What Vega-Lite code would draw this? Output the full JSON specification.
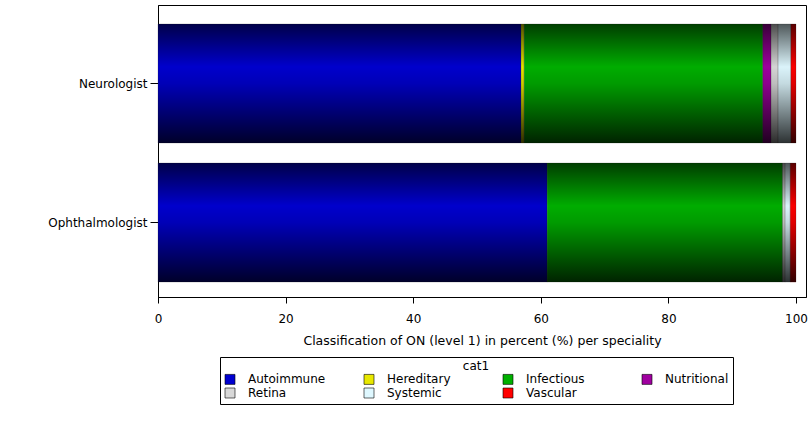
{
  "$schema": "https://vega.github.io/schema/vega-lite/v6.json",
  "width": 648,
  "height": 292,
  "autosize": "none",
  "padding": {"left": 158, "top": 5, "right": 5, "bottom": 124},
  "background": "white",
  "config": {
    "view": {"stroke": "black", "strokeWidth": 1},
    "font": "DejaVu Sans"
  },
  "data": {
    "values": [
      {"specialty": "Neurologist", "cat1": "Autoimmune", "pct": 56.9},
      {"specialty": "Neurologist", "cat1": "Hereditary", "pct": 0.5},
      {"specialty": "Neurologist", "cat1": "Infectious", "pct": 37.4},
      {"specialty": "Neurologist", "cat1": "Nutritional", "pct": 1.3},
      {"specialty": "Neurologist", "cat1": "Retina", "pct": 1.1},
      {"specialty": "Neurologist", "cat1": "Systemic", "pct": 2.0},
      {"specialty": "Neurologist", "cat1": "Vascular", "pct": 0.8},
      {"specialty": "Ophthalmologist", "cat1": "Autoimmune", "pct": 61.0},
      {"specialty": "Ophthalmologist", "cat1": "Infectious", "pct": 36.9},
      {"specialty": "Ophthalmologist", "cat1": "Retina", "pct": 0.4},
      {"specialty": "Ophthalmologist", "cat1": "Systemic", "pct": 0.8},
      {"specialty": "Ophthalmologist", "cat1": "Vascular", "pct": 0.9}
    ]
  },
  "layer": [
    {
      "mark": {"type": "bar", "stroke": "#202020", "strokeWidth": 0.4, "strokeOpacity": 0.5},
      "encoding": {
        "y": {
          "field": "specialty", "type": "nominal",
          "sort": ["Neurologist", "Ophthalmologist"],
          "scale": {"paddingInner": 0.144, "paddingOuter": 0.122, "align": 0.56},
          "axis": {"title": null, "tickSize": 8, "tickColor": "black", "domainColor": "black", "labelColor": "black", "labelFontSize": 12, "labelPadding": 3}
        },
        "x": {
          "field": "pct", "type": "quantitative", "stack": "zero",
          "scale": {"domain": [0, 101.57], "nice": false},
          "axis": {
            "title": "Classification of ON (level 1) in percent (%) per speciality",
            "values": [0, 20, 40, 60, 80, 100],
            "grid": false, "tickSize": 6, "tickColor": "black", "domainColor": "black",
            "labelColor": "black", "titleColor": "black",
            "labelFontSize": 12, "titleFontSize": 12.5, "titleFontWeight": "normal",
            "labelPadding": 10, "titlePadding": 10, "labelFlush": false
          }
        },
        "color": {
          "field": "cat1", "type": "nominal",
          "scale": {
            "domain": ["Autoimmune", "Hereditary", "Infectious", "Nutritional", "Retina", "Systemic", "Vascular"],
            "range": ["#0000d0", "#e8e800", "#00b000", "#a000a0", "#d8d8d8", "#dff8ff", "#ff0000"]
          },
          "legend": {
            "title": "cat1", "orient": "none", "legendX": 62, "legendY": 352,
            "direction": "horizontal", "columns": 4, "gridAlign": "all",
            "titleAnchor": "middle", "titleFontWeight": "normal", "titleFontSize": 12, "titleColor": "black",
            "labelFontSize": 12, "labelColor": "black", "labelOffset": 12,
            "symbolType": "square", "symbolSize": 100, "symbolStrokeColor": "black", "symbolStrokeWidth": 0.6,
            "strokeColor": "black", "padding": 4, "columnPadding": 36, "rowPadding": 0,
            "titlePadding": 0
          }
        }
      }
    },
    {
      "mark": {
        "type": "bar",
        "color": {
          "gradient": "linear", "x1": 0, "y1": 0, "x2": 0, "y2": 1,
          "stops": [
            {"offset": 0, "color": "rgba(0,0,0,0.65)"},
            {"offset": 0.36, "color": "rgba(0,0,0,0.02)"},
            {"offset": 0.5, "color": "rgba(0,0,0,0.12)"},
            {"offset": 1, "color": "rgba(0,0,0,0.8)"}
          ]
        }
      },
      "encoding": {
        "y": {"field": "specialty", "type": "nominal", "sort": ["Neurologist", "Ophthalmologist"]},
        "x": {"aggregate": "sum", "field": "pct", "type": "quantitative"}
      }
    }
  ]
}
